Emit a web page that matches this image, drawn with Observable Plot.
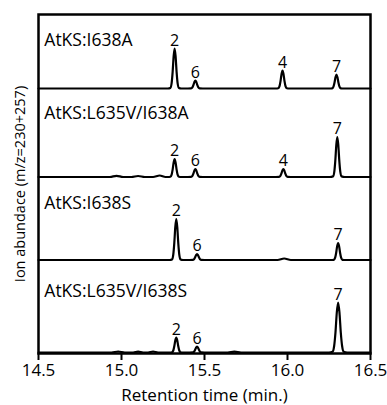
<!DOCTYPE html>
<html>
<head>
<meta charset="utf-8">
<script src="https://cdn.jsdelivr.net/npm/d3@7"></script>
<script src="https://cdn.jsdelivr.net/npm/@observablehq/plot@0.6"></script>
<style>
  html, body { margin: 0; padding: 0; background: white; }
</style>
</head>
<body>
<div id="chart"></div>
<script>
// ---- Data ----
const traceNames = ["AtKS:I638A", "AtKS:L635V/I638A", "AtKS:I638S", "AtKS:L635V/I638S"];
const xTicks = [14.5, 15.0, 15.5, 16.0, 16.5];

// Trace 1: AtKS:I638A
const t1 = [14.5, 15.28, 15.294, 15.302, 15.308, 15.314, 15.32, 15.326, 15.332, 15.338, 15.346, 15.36, 15.40, 15.419, 15.427, 15.433, 15.439, 15.445, 15.451, 15.457, 15.463, 15.471, 15.49, 15.93, 15.944, 15.952, 15.958, 15.964, 15.97, 15.976, 15.982, 15.988, 15.996, 16.01, 16.255, 16.269, 16.277, 16.283, 16.289, 16.295, 16.301, 16.307, 16.313, 16.321, 16.34, 16.5];
const v1 = [0, 0, 0.6, 5.4, 16.4, 32, 40, 32, 16.4, 5.4, 0.6, 0, 0, 0.1, 1.1, 3.3, 6.4, 8, 6.4, 3.3, 1.1, 0.1, 0, 0, 0.3, 2.4, 7.4, 14.4, 18, 14.4, 7.4, 2.4, 0.3, 0, 0, 0.2, 1.9, 5.7, 11.2, 14, 11.2, 5.7, 1.9, 0.2, 0, 0];

// Trace 2: AtKS:L635V/I638A
const t2 = [14.5, 14.93, 14.97, 15.01, 15.06, 15.10, 15.14, 15.19, 15.23, 15.265, 15.28, 15.294, 15.302, 15.308, 15.314, 15.32, 15.326, 15.332, 15.338, 15.346, 15.36, 15.40, 15.419, 15.427, 15.433, 15.439, 15.445, 15.451, 15.457, 15.463, 15.471, 15.49, 15.93, 15.949, 15.957, 15.963, 15.969, 15.975, 15.981, 15.987, 15.993, 16.001, 16.02, 16.255, 16.274, 16.282, 16.288, 16.294, 16.30, 16.306, 16.312, 16.318, 16.326, 16.345, 16.5];
const v2 = [0, 0, 1.2, 0, 0, 1, 0, 0, 1.5, 0, 0, 0.3, 2.4, 7.4, 14.4, 18, 14.4, 7.4, 2.4, 0.3, 0, 0, 0.1, 1.1, 3.3, 6.4, 8, 6.4, 3.3, 1.1, 0.1, 0, 0, 0.1, 1.1, 3.3, 6.4, 8, 6.4, 3.3, 1.1, 0.1, 0, 0, 0.6, 5.4, 16.4, 32, 40, 32, 16.4, 5.4, 0.6, 0, 0];

// Trace 3: AtKS:I638S
const t3 = [14.5, 15.29, 15.304, 15.312, 15.318, 15.324, 15.33, 15.336, 15.342, 15.348, 15.356, 15.37, 15.41, 15.429, 15.437, 15.443, 15.449, 15.455, 15.461, 15.467, 15.473, 15.481, 15.50, 15.94, 15.98, 16.02, 16.26, 16.279, 16.287, 16.293, 16.299, 16.305, 16.311, 16.317, 16.323, 16.331, 16.35, 16.5];
const v3 = [0, 0, 0.6, 5.5, 16.8, 32.8, 41, 32.8, 16.8, 5.5, 0.6, 0, 0, 0.1, 0.8, 2.5, 4.8, 6, 4.8, 2.5, 0.8, 0.1, 0, 0, 1.5, 0, 0, 0.2, 2.3, 7, 13.6, 17, 13.6, 7, 2.3, 0.2, 0, 0];

// Trace 4: AtKS:L635V/I638S
const t4 = [14.5, 14.94, 14.98, 15.02, 15.07, 15.10, 15.13, 15.16, 15.19, 15.22, 15.29, 15.304, 15.312, 15.318, 15.324, 15.33, 15.336, 15.342, 15.348, 15.356, 15.37, 15.41, 15.429, 15.437, 15.443, 15.449, 15.455, 15.461, 15.467, 15.473, 15.481, 15.50, 15.64, 15.68, 15.72, 16.25, 16.271, 16.281, 16.289, 16.297, 16.305, 16.313, 16.321, 16.329, 16.339, 16.36, 16.5];
const v4 = [0, 0, 1, 0, 0, 0.8, 0, 0, 1, 0, 0, 0.2, 2, 6.2, 12, 15, 12, 6.2, 2, 0.2, 0, 0, 0.1, 0.8, 2.5, 4.8, 6, 4.8, 2.5, 0.8, 0.1, 0, 0, 0.8, 0, 0, 0.7, 6.5, 20, 40, 50, 40, 20, 6.5, 0.7, 0, 0];

// Peak labels (compound numbers), their retention times and peak tops
const peakIds1 = ["2", "6", "4", "7"], peakT1 = [15.32, 15.445, 15.97, 16.295], peakH1 = [40, 8, 18, 14];
const peakIds2 = ["2", "6", "4", "7"], peakT2 = [15.32, 15.445, 15.975, 16.30], peakH2 = [18, 8, 8, 40];
const peakIds3 = ["2", "6", "7"], peakT3 = [15.33, 15.455, 16.305], peakH3 = [41, 6, 17];
const peakIds4 = ["2", "6", "7"], peakT4 = [15.33, 15.455, 16.305], peakH4 = [15, 6, 50];

// ---- Layout (stack offsets, label heights) ----
const offsets = [265, 176.5, 93.5, 1];
const nameY = [313, 240, 150, 62];

const traces = [[t1, v1], [t2, v2], [t3, v3], [t4, v4]];
const peaks = [[peakIds1, peakT1, peakH1], [peakIds2, peakT2, peakH2], [peakIds3, peakT3, peakH3], [peakIds4, peakT4, peakH4]];

const rows = traces.flatMap(([t, v], i) => t.map((ti, j) => ({t: ti, y: v[j] + offsets[i], trace: traceNames[i]})));
const peakRows = peaks.flatMap(([ids, ts, hs], i) => ids.map((id, j) => ({t: ts[j], y: hs[j] + offsets[i], id})));
const nameRows = traceNames.map((name, i) => ({name, y: nameY[i]}));

const chart = Plot.plot({
  width: 387,
  height: 405,
  marginLeft: 38,
  marginRight: 17,
  marginTop: 14,
  marginBottom: 52,
  style: {fontFamily: "Open Sans", fontSize: "15px", background: "white", color: "black"},
  x: {domain: [14.5, 16.5]},
  y: {domain: [0, 339]},
  marks: [
    Plot.line(rows, {x: "t", y: "y", z: "trace", curve: "monotone-x", stroke: "black", strokeWidth: 2.2}),
    Plot.text(peakRows, {x: "t", y: "y", text: "id", dy: -3, lineAnchor: "bottom", fontSize: 16, fill: "black"}),
    Plot.text(nameRows, {x: 14.535, y: "y", text: "name", textAnchor: "start", lineAnchor: "middle", fontSize: 17.5, fill: "black"}),
    Plot.frame({stroke: "black", strokeWidth: 2.5}),
    Plot.axisX({ticks: xTicks, tickFormat: d3.format(".1f"), tickSize: 7, strokeWidth: 2, fontSize: 17,
      label: "Retention time (min.)", labelAnchor: "center", labelArrow: "none", labelOffset: 47}),
    Plot.axisY({ticks: [], label: "Ion abundace (m/z=230+257)", labelAnchor: "center", labelArrow: "none", labelOffset: 24, fontSize: 14.5})
  ]
});
document.getElementById("chart").appendChild(chart);
</script>
</body>
</html>
